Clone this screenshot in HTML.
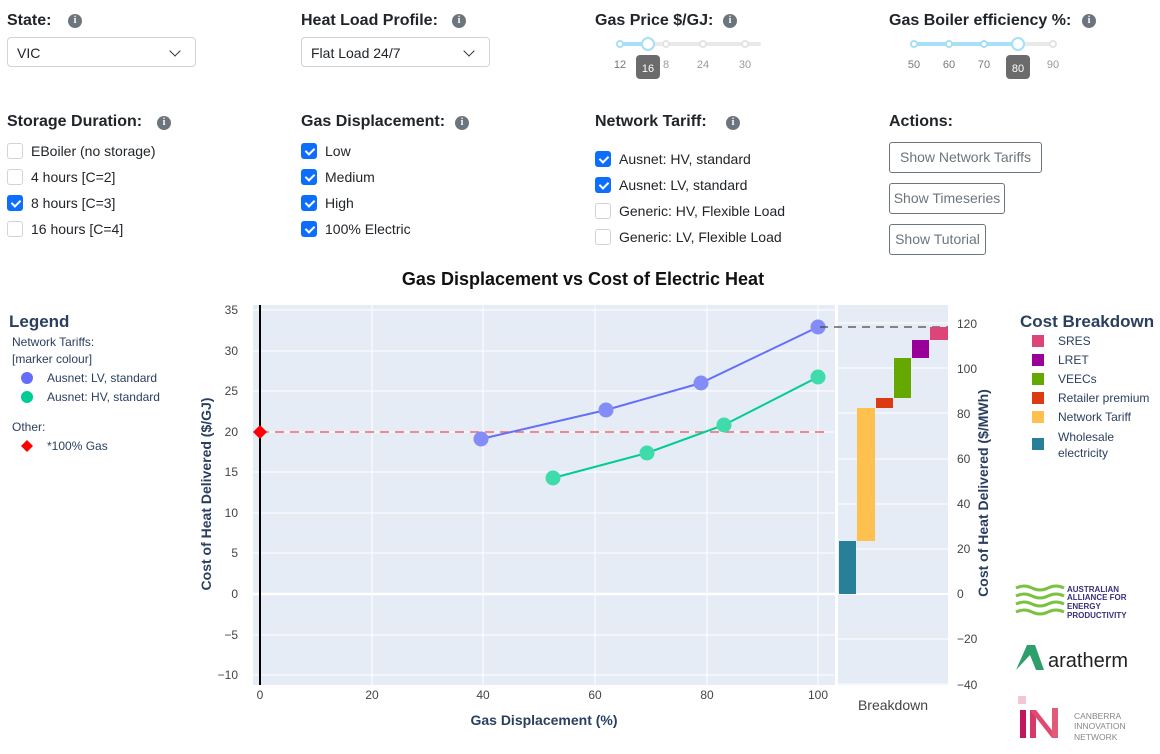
<!DOCTYPE html>
<html><head><meta charset="utf-8"><style>
body{margin:0;width:1160px;height:754px;background:#fff;position:relative;overflow:hidden;font-family:"Liberation Sans",sans-serif;color:#212529}
.a{position:absolute;white-space:nowrap}
.lbl{font-weight:bold;font-size:16px;color:#212529}
.info{position:absolute;width:14px;height:14px;border-radius:50%;background:#6c757d;color:#fff;font-size:10px;font-weight:bold;text-align:center;line-height:14px;font-family:"Liberation Serif",serif}
.sel{position:absolute;border:1px solid #ced4da;border-radius:4px;height:30px;font-size:14px;line-height:30px;padding-left:9px;box-sizing:border-box}
.sel:after{content:"";position:absolute;right:16px;top:9px;width:7px;height:7px;border-right:1.6px solid #333;border-bottom:1.6px solid #333;transform:rotate(45deg)}
.cb{position:absolute;width:16px;height:16px;border:1px solid #ced4da;border-radius:3px;box-sizing:border-box;background:#fff}
.cb.on{background:#0d6efd;border-color:#0d6efd}
.cb.on:after{content:"";position:absolute;left:4.5px;top:1.5px;width:4px;height:7px;border-right:2px solid #fff;border-bottom:2px solid #fff;transform:rotate(45deg)}
.ct{position:absolute;font-size:14px;color:#212529}
.btn{position:absolute;border:1px solid #6c757d;border-radius:3px;color:#6c757d;font-size:14px;box-sizing:border-box;height:31px;line-height:29px;text-align:center}
</style></head><body>
<div class="a lbl" style="left:7px;top:12px">State:</div><div class="info" style="left:68px;top:14px">i</div>
<div class="sel" style="left:7px;top:37px;width:189px">VIC</div>
<div class="a lbl" style="left:301px;top:12px">Heat Load Profile:</div><div class="info" style="left:452px;top:14px">i</div>
<div class="sel" style="left:301px;top:37px;width:189px">Flat Load 24/7</div>
<div class="a lbl" style="left:595px;top:12px">Gas Price $/GJ:</div><div class="info" style="left:723px;top:14px">i</div>
<div class="a lbl" style="left:889px;top:12px">Gas Boiler efficiency %:</div><div class="info" style="left:1082px;top:14px">i</div>

<svg class="a" style="left:0;top:0" width="1160" height="90">
<g font-family="Liberation Sans,sans-serif" font-size="11" fill="#999" text-anchor="middle">
<line x1="620" y1="44" x2="759" y2="44" stroke="#e9e9e9" stroke-width="4" stroke-linecap="round"/>
<line x1="620" y1="44" x2="648" y2="44" stroke="#a7dff7" stroke-width="4"/>
<circle cx="620" cy="44" r="3" fill="#fff" stroke="#a7dff7" stroke-width="2"/>
<circle cx="666" cy="44" r="3" fill="#fff" stroke="#e4e4e4" stroke-width="2"/>
<circle cx="703" cy="44" r="3" fill="#fff" stroke="#e4e4e4" stroke-width="2"/>
<circle cx="745" cy="44" r="3" fill="#fff" stroke="#e4e4e4" stroke-width="2"/>
<circle cx="648" cy="44" r="6" fill="#fff" stroke="#a7dff7" stroke-width="2"/>
<text x="620" y="68" fill="#777">12</text><text x="666" y="68">8</text><text x="703" y="68">24</text><text x="745" y="68">30</text>
<rect x="636" y="55" width="24" height="24" rx="4" fill="#6b6b6b"/><text x="648" y="72" fill="#fff">16</text>
<line x1="914" y1="44" x2="1053" y2="44" stroke="#e9e9e9" stroke-width="4" stroke-linecap="round"/>
<line x1="914" y1="44" x2="1018" y2="44" stroke="#a7dff7" stroke-width="4"/>
<circle cx="914" cy="44" r="3" fill="#fff" stroke="#a7dff7" stroke-width="2"/>
<circle cx="949" cy="44" r="3" fill="#fff" stroke="#a7dff7" stroke-width="2"/>
<circle cx="984" cy="44" r="3" fill="#fff" stroke="#a7dff7" stroke-width="2"/>
<circle cx="1053" cy="44" r="3" fill="#fff" stroke="#e4e4e4" stroke-width="2"/>
<circle cx="1018" cy="44" r="6" fill="#fff" stroke="#a7dff7" stroke-width="2"/>
<text x="914" y="68" fill="#777">50</text><text x="949" y="68" fill="#777">60</text><text x="984" y="68" fill="#777">70</text><text x="1053" y="68">90</text>
<rect x="1006" y="55" width="24" height="24" rx="4" fill="#6b6b6b"/><text x="1018" y="72" fill="#fff">80</text>
</g></svg>

<div class="a lbl" style="left:7px;top:113px">Storage Duration:</div><div class="info" style="left:157px;top:116px">i</div>
<div class="cb" style="left:7px;top:143px"></div><div class="ct" style="left:31px;top:143px">EBoiler (no storage)</div>
<div class="cb" style="left:7px;top:169px"></div><div class="ct" style="left:31px;top:169px">4 hours [C=2]</div>
<div class="cb on" style="left:7px;top:195px"></div><div class="ct" style="left:31px;top:195px">8 hours [C=3]</div>
<div class="cb" style="left:7px;top:221px"></div><div class="ct" style="left:31px;top:221px">16 hours [C=4]</div>

<div class="a lbl" style="left:301px;top:113px">Gas Displacement:</div><div class="info" style="left:455px;top:116px">i</div>
<div class="cb on" style="left:301px;top:143px"></div><div class="ct" style="left:325px;top:143px">Low</div>
<div class="cb on" style="left:301px;top:169px"></div><div class="ct" style="left:325px;top:169px">Medium</div>
<div class="cb on" style="left:301px;top:195px"></div><div class="ct" style="left:325px;top:195px">High</div>
<div class="cb on" style="left:301px;top:221px"></div><div class="ct" style="left:325px;top:221px">100% Electric</div>

<div class="a lbl" style="left:595px;top:113px">Network Tariff:</div><div class="info" style="left:726px;top:116px">i</div>
<div class="cb on" style="left:595px;top:151px"></div><div class="ct" style="left:619px;top:151px">Ausnet: HV, standard</div>
<div class="cb on" style="left:595px;top:177px"></div><div class="ct" style="left:619px;top:177px">Ausnet: LV, standard</div>
<div class="cb" style="left:595px;top:203px"></div><div class="ct" style="left:619px;top:203px">Generic: HV, Flexible Load</div>
<div class="cb" style="left:595px;top:229px"></div><div class="ct" style="left:619px;top:229px">Generic: LV, Flexible Load</div>

<div class="a lbl" style="left:889px;top:113px">Actions:</div>
<div class="btn" style="left:889px;top:142px;width:153px">Show Network Tariffs</div>
<div class="btn" style="left:889px;top:183px;width:116px">Show Timeseries</div>
<div class="btn" style="left:889px;top:224px;width:97px">Show Tutorial</div>

<svg class="a" style="left:0;top:260px" width="1160" height="494" viewBox="0 260 1160 494" font-family="Liberation Sans,sans-serif">
<text x="583" y="285" text-anchor="middle" font-size="18" font-weight="bold" fill="#111">Gas Displacement vs Cost of Electric Heat</text>
<!-- main plot -->
<rect x="253" y="305" width="582" height="380" fill="#e5ecf6"/>
<g stroke="#fff" stroke-width="1">
<line x1="253" y1="310" x2="835" y2="310"/><line x1="253" y1="351" x2="835" y2="351"/><line x1="253" y1="391" x2="835" y2="391"/><line x1="253" y1="432" x2="835" y2="432"/><line x1="253" y1="472" x2="835" y2="472"/><line x1="253" y1="513" x2="835" y2="513"/><line x1="253" y1="553" x2="835" y2="553"/><line x1="253" y1="635" x2="835" y2="635"/><line x1="253" y1="675" x2="835" y2="675"/>
<line x1="372" y1="305" x2="372" y2="685"/><line x1="483" y1="305" x2="483" y2="685"/><line x1="595" y1="305" x2="595" y2="685"/><line x1="707" y1="305" x2="707" y2="685"/><line x1="818" y1="305" x2="818" y2="685"/>
</g>
<line x1="253" y1="594" x2="835" y2="594" stroke="#fff" stroke-width="2.5"/>
<line x1="260" y1="305" x2="260" y2="685" stroke="#000" stroke-width="2"/>
<g font-size="12" fill="#444" text-anchor="end">
<text x="238" y="314">35</text><text x="238" y="355">30</text><text x="238" y="395">25</text><text x="238" y="436">20</text><text x="238" y="476">15</text><text x="238" y="517">10</text><text x="238" y="557">5</text><text x="238" y="598">0</text><text x="238" y="639">−5</text><text x="238" y="679">−10</text>
</g>
<g font-size="12" fill="#444" text-anchor="middle">
<text x="260" y="699">0</text><text x="372" y="699">20</text><text x="483" y="699">40</text><text x="595" y="699">60</text><text x="707" y="699">80</text><text x="818" y="699">100</text>
</g>
<text x="544" y="725" text-anchor="middle" font-size="14" font-weight="bold" fill="#2a3f5f">Gas Displacement (%)</text>
<text transform="translate(211,494) rotate(-90)" text-anchor="middle" font-size="14" font-weight="bold" fill="#2a3f5f">Cost of Heat Delivered ($/GJ)</text>
<line x1="260" y1="432" x2="828" y2="432" stroke="#ef6a6a" stroke-width="1.5" stroke-dasharray="9,6"/>
<polygon points="260,425 267,432 260,439 253,432" fill="#f00"/>
<polyline points="481,439 606,410 701,383 818,327" fill="none" stroke="#636efa" stroke-width="2"/>
<polyline points="553,478 647,453 724,425 818,377" fill="none" stroke="#00cc96" stroke-width="2"/>
<g fill="#848cf8"><circle cx="481" cy="439" r="7.5"/><circle cx="606" cy="410" r="7.5"/><circle cx="701" cy="383" r="7.5"/><circle cx="818" cy="327" r="7.5"/></g>
<g fill="#3fdbaa"><circle cx="553" cy="478" r="7.5"/><circle cx="647" cy="453" r="7.5"/><circle cx="724" cy="425" r="7.5"/><circle cx="818" cy="377" r="7.5"/></g>
<!-- breakdown subplot -->
<rect x="838" y="305" width="110" height="380" fill="#e5ecf6"/>
<g stroke="#fff" stroke-width="1">
<line x1="838" y1="323" x2="948" y2="323"/><line x1="838" y1="368" x2="948" y2="368"/><line x1="838" y1="413" x2="948" y2="413"/><line x1="838" y1="459" x2="948" y2="459"/><line x1="838" y1="504" x2="948" y2="504"/><line x1="838" y1="549" x2="948" y2="549"/><line x1="838" y1="639" x2="948" y2="639"/><line x1="838" y1="684" x2="948" y2="684"/>
</g>
<line x1="838" y1="594" x2="948" y2="594" stroke="#fff" stroke-width="2"/>
<line x1="820" y1="327" x2="948" y2="327" stroke="#444" stroke-width="1.3" stroke-dasharray="8,6"/>
<rect x="839" y="541" width="17" height="53" fill="#277f98"/>
<rect x="857" y="408" width="18" height="133" fill="#fec150"/>
<rect x="876" y="398" width="17" height="10" fill="#dc3a13"/>
<rect x="894" y="358" width="17" height="40" fill="#65a800"/>
<rect x="912" y="340" width="17" height="18" fill="#990099"/>
<rect x="930" y="327" width="18" height="13" fill="#dd4477"/>
<text x="893" y="710" text-anchor="middle" font-size="14" fill="#444">Breakdown</text>
<g font-size="12" fill="#444">
<text x="957" y="328">120</text><text x="957" y="373">100</text><text x="957" y="418">80</text><text x="957" y="463">60</text><text x="957" y="508">40</text><text x="957" y="553">20</text><text x="957" y="598">0</text><text x="957" y="643">−20</text><text x="957" y="689">−40</text>
</g>
<text transform="translate(988,493) rotate(-90)" text-anchor="middle" font-size="14" font-weight="bold" fill="#2a3f5f">Cost of Heat Delivered ($/MWh)</text>
<!-- legends -->
<text x="9" y="327" font-size="17" font-weight="bold" fill="#2a3f5f">Legend</text>
<g font-size="12" fill="#2a3f5f">
<text x="12" y="346">Network Tariffs:</text><text x="12" y="363">[marker colour]</text>
<circle cx="27" cy="378" r="6" fill="#636efa"/><text x="47" y="382">Ausnet: LV, standard</text>
<circle cx="27" cy="397" r="6" fill="#00cc96"/><text x="47" y="401">Ausnet: HV, standard</text>
<text x="12" y="431">Other:</text>
<polygon points="27,440 33,446 27,452 21,446" fill="#f00"/><text x="47" y="450">*100% Gas</text>
</g>
<text x="1020" y="327" font-size="17" font-weight="bold" fill="#2a3f5f">Cost Breakdown</text>
<g font-size="12" fill="#2a3f5f">
<rect x="1032" y="335" width="12" height="12" fill="#dd4477"/><text x="1058" y="345">SRES</text>
<rect x="1032" y="354" width="12" height="12" fill="#990099"/><text x="1058" y="364">LRET</text>
<rect x="1032" y="373" width="12" height="12" fill="#65a800"/><text x="1058" y="383">VEECs</text>
<rect x="1032" y="392" width="12" height="12" fill="#dc3a13"/><text x="1058" y="402">Retailer premium</text>
<rect x="1032" y="411" width="12" height="12" fill="#fec150"/><text x="1058" y="421">Network Tariff</text>
<rect x="1032" y="438" width="12" height="12" fill="#277f98"/><text x="1058" y="441">Wholesale</text><text x="1058" y="457">electricity</text>
</g>
<!-- logos -->
<g fill="none" stroke="#7cc242" stroke-width="3">
<path d="M1016,588 q8,-4 16,0 t16,0 t16,0"/><path d="M1016,596 q8,-4 16,0 t16,0 t16,0"/><path d="M1016,604 q8,-4 16,0 t16,0 t16,0"/><path d="M1016,612 q8,-4 16,0 t16,0 t16,0"/>
</g>
<g font-size="8" font-weight="bold" fill="#3b2f7a"><text x="1067" y="592">AUSTRALIAN</text><text x="1067" y="600">ALLIANCE FOR</text><text x="1067" y="609">ENERGY</text><text x="1067" y="618">PRODUCTIVITY</text></g>
<polygon points="1016,670 1027,645 1035,645 1044,670 1036,670 1030,655" fill="#2e9e6a"/>
<text x="1048" y="667" font-size="20" fill="#222">aratherm</text>
<rect x="1020" y="710" width="6" height="28" fill="#c2185b"/><rect x="1030" y="710" width="6" height="28" fill="#d63a6a"/><polygon points="1030,710 1036,710 1058,738 1052,738" fill="#e04a6f"/><rect x="1052" y="708" width="6" height="30" fill="#e25a78"/><rect x="1018" y="696" width="8" height="8" fill="#f3c6d3"/>
<g font-size="8.5" fill="#888"><text x="1074" y="719">CANBERRA</text><text x="1074" y="729">INNOVATION</text><text x="1074" y="740">NETWORK</text></g>
</svg>
</body></html>
